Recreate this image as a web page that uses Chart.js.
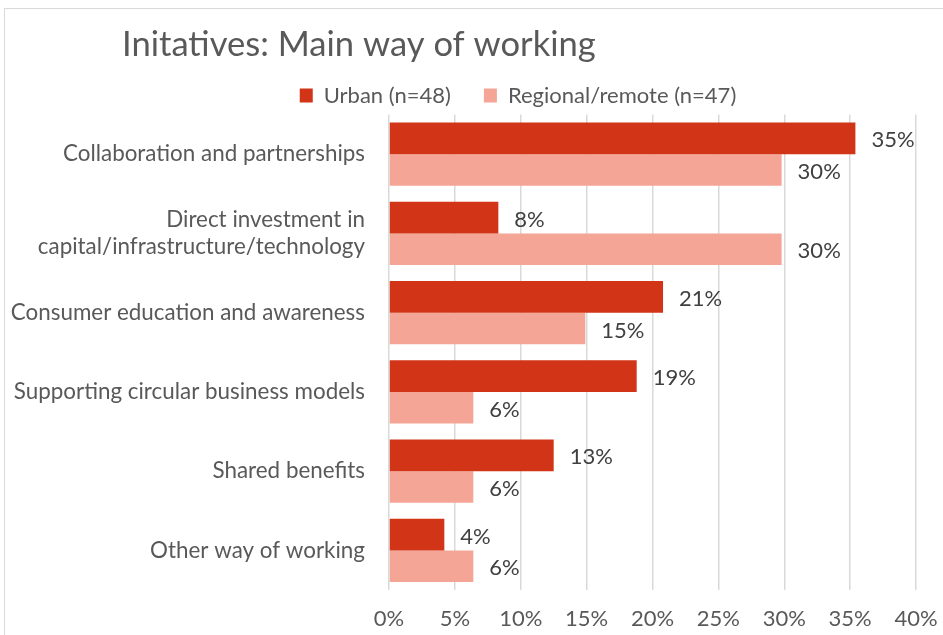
<!DOCTYPE html>
<html>
<head>
<meta charset="utf-8">
<script src="https://cdn.jsdelivr.net/npm/chart.js@4.4.1/dist/chart.umd.min.js"></script>
<style>
  html, body { margin: 0; padding: 0; background: #fff; overflow: hidden; }
  #frame { position: absolute; left: 4px; top: 8px; width: 1200px; height: 900px; border: 1px solid #d9d9d9; }
  #wrap { position: absolute; left: 0; top: 0; width: 943px; height: 635px; }
</style>
</head>
<body>
<div id="frame"></div>
<div id="wrap"><canvas id="chart" width="943" height="635"></canvas></div>
<script>
// initiative categories, top to bottom
const categories = [
  'Collaboration and partnerships',
  ['Direct investment in', 'capital/infrastructure/technology'],
  'Consumer education and awareness',
  'Supporting circular business models',
  'Shared benefits',
  'Other way of working'
];
// share of respondents (%)
const urban = [35.4, 8.3, 20.8, 18.8, 12.5, 4.2];
const regional = [29.8, 29.8, 14.9, 6.4, 6.4, 6.4];
const seriesNames = ['Urban (n=48)', 'Regional/remote (n=47)'];

const FONT = 'Lato, "Open Sans", sans-serif';

// value labels placed just past the end of each bar
const barLabels = {
  id: 'barLabels',
  afterDatasetsDraw(chart) {
    const ctx = chart.ctx;
    ctx.save();
    ctx.font = '22px ' + FONT;
    ctx.fillStyle = '#404040';
    ctx.textAlign = 'left';
    ctx.textBaseline = 'middle';
    chart.data.datasets.forEach((ds, i) => {
      chart.getDatasetMeta(i).data.forEach((bar, j) => {
        ctx.fillText(Math.round(ds.data[j]) + '%', bar.x + 16, bar.y + 2);
      });
    });
    ctx.restore();
  }
};

// nudge title and legend boxes after layout
const headerPlacement = {
  id: 'headerPlacement',
  afterLayout(chart) {
    const t = chart.titleBlock;
    t.top += 16; t.bottom += 16;
    t.left = 122;
    const lg = chart.legend;
    lg.left += 56; lg.right += 56;
    lg.top += 2; lg.bottom += 2;
  }
};

new Chart(document.getElementById('chart'), {
  type: 'bar',
  data: {
    labels: categories,
    datasets: [
      { label: seriesNames[0], data: urban, backgroundColor: '#d13416' },
      { label: seriesNames[1], data: regional, backgroundColor: '#f4a596' }
    ]
  },
  options: {
    indexAxis: 'y',
    responsive: false,
    animation: false,
    categoryPercentage: 0.8,
    barPercentage: 1.0,
    layout: { padding: { left: 8, right: 27, top: 8, bottom: 2 } },
    plugins: {
      title: {
        display: true,
        text: 'Initatives: Main way of working',
        align: 'start',
        color: '#595959',
        font: { family: FONT, size: 34.6, weight: 'normal', lineHeight: 1.2 },
        padding: { top: 0, bottom: 0 }
      },
      legend: {
        display: true,
        position: 'top',
        labels: {
          color: '#595959',
          font: { family: FONT, size: 22 },
          boxWidth: 13,
          boxHeight: 14,
          padding: 33
        }
      },
      tooltip: { enabled: false }
    },
    scales: {
      x: {
        min: 0,
        max: 40,
        ticks: {
          stepSize: 5,
          color: '#595959',
          font: { family: FONT, size: 22 },
          padding: 16,
          maxRotation: 0,
          callback: v => v + '%'
        },
        grid: { color: '#d9d9d9', lineWidth: 1.5, drawTicks: false },
        border: { display: false },
        afterFit(scale) {
          scale.height = 43;
          scale.paddingLeft = 0; scale.paddingRight = 0;
        }
      },
      y: {
        ticks: {
          color: '#595959',
          font: { family: FONT, size: 22.4 },
          padding: 24
        },
        grid: { display: false, drawTicks: false },
        border: { display: false },
        afterFit(scale) {
          scale.width = 381;
          scale.paddingTop = 0; scale.paddingBottom = 0;
        }
      }
    }
  },
  plugins: [barLabels, headerPlacement]
});
</script>
</body>
</html>
